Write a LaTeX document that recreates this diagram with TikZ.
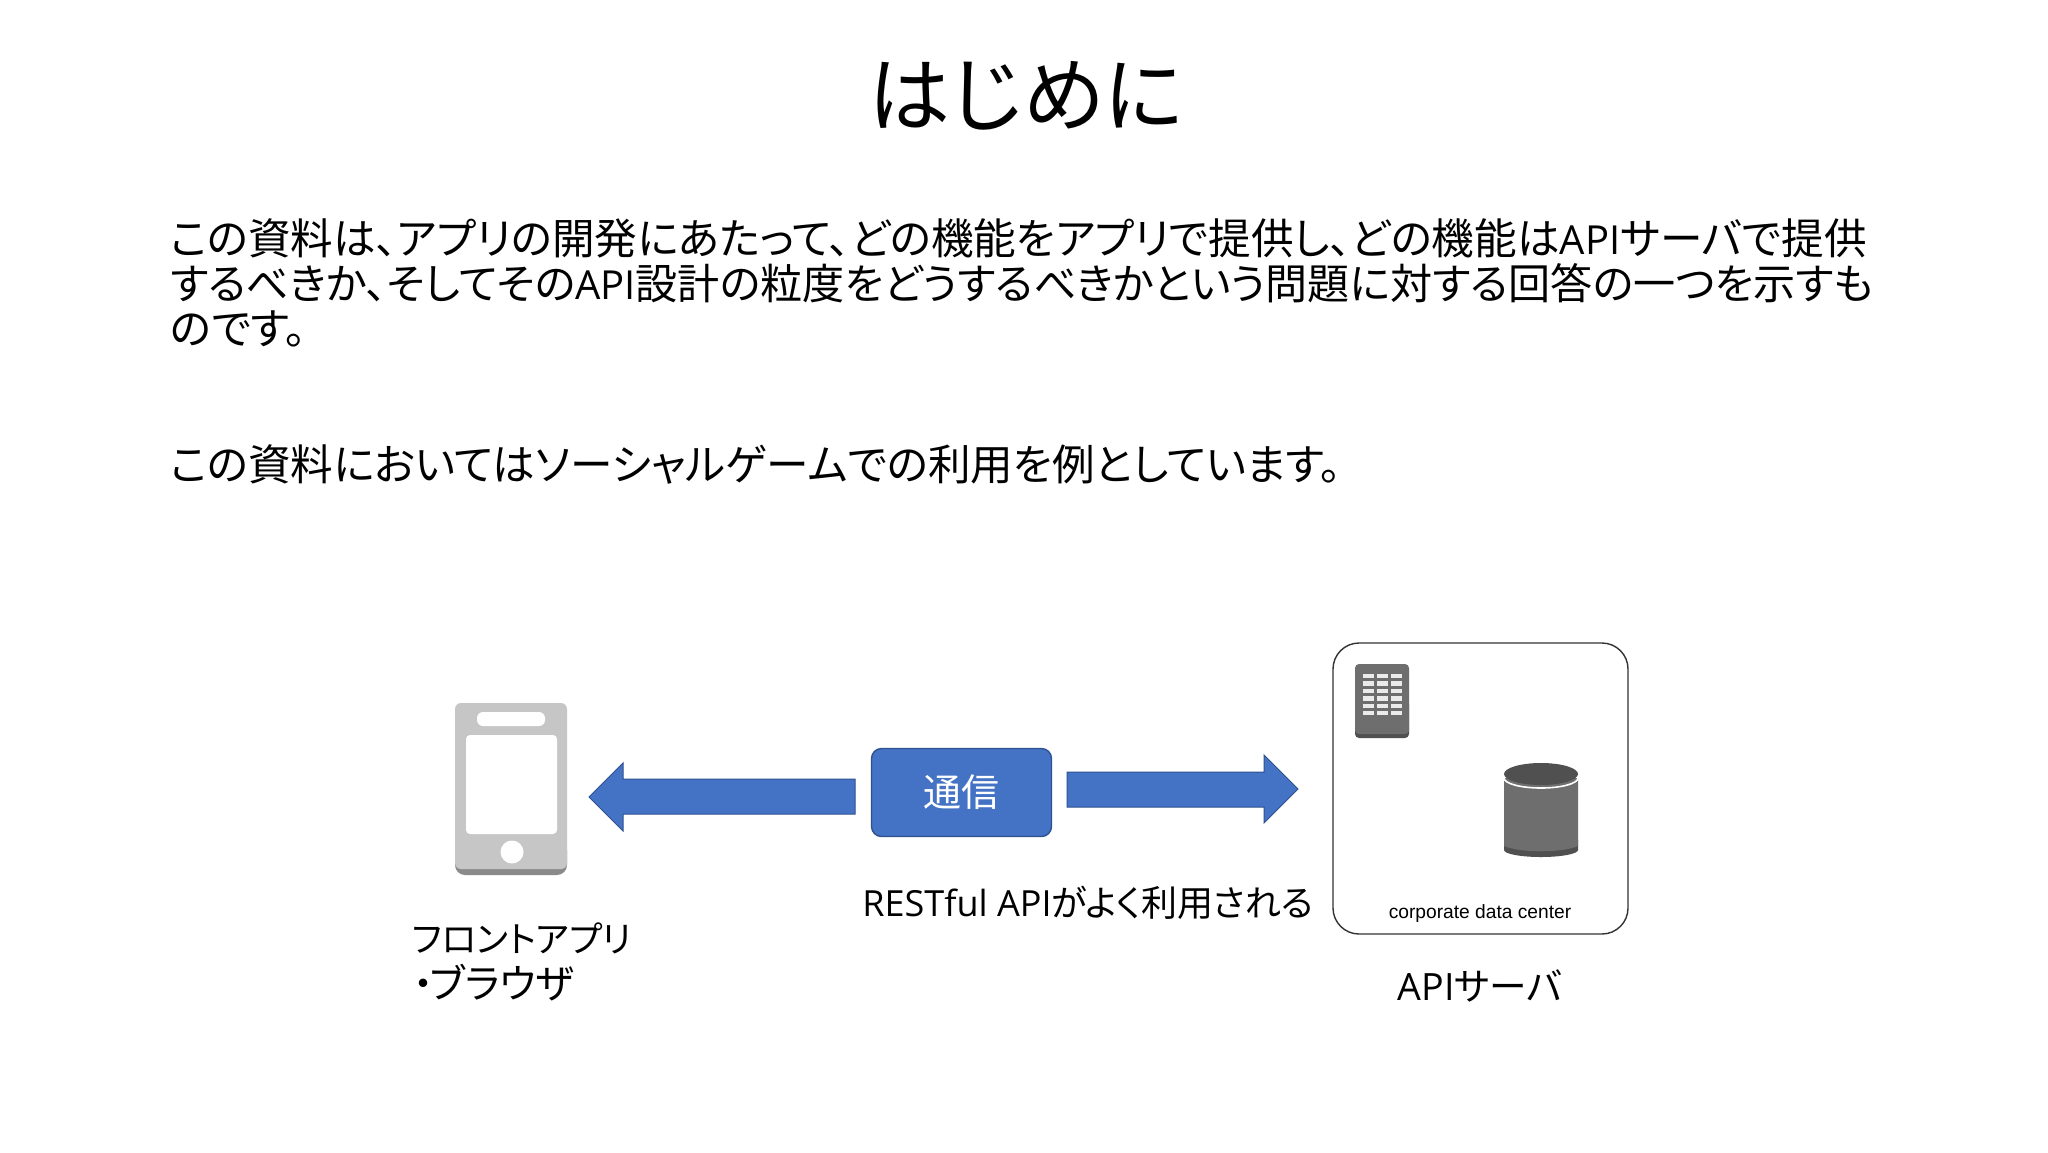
\documentclass[tikz,border=0pt]{standalone}
\usepackage{fontspec}
\setmainfont[RawFeature={+palt}]{Noto Sans CJK JP}
\newfontfamily\latn{Open Sans}
\newfontfamily\arial{Liberation Sans}
\definecolor{blockblue}{HTML}{4472C4}
\definecolor{blockedge}{HTML}{2F528F}
\definecolor{phonegray}{HTML}{C6C6C6}
\definecolor{phonedark}{HTML}{8A8A8A}
\definecolor{srvgray}{HTML}{6E6E6E}
\definecolor{srvdark}{HTML}{505050}
\newcommand{\fs}[1]{\fontsize{#1}{#1}\selectfont}
\tikzset{
  x=0.5pt,y=-0.5pt,
  bodyline/.style={anchor=west,inner sep=0pt,text=black,font=\fs{21.3}},
  label/.style={anchor=center,inner sep=0pt,text=black,font=\fs{18}},
  blockarrow/.style={fill=blockblue,draw=blockedge,line width=0.5pt,line join=miter},
}
\begin{document}
\begin{tikzpicture}
\useasboundingbox (0,0) rectangle (2048,1152);
\fill[white] (0,0) rectangle (2048,1152);
\node[anchor=center,inner sep=0pt,font=\fs{41}] (title) at (1026,96) {はじめに};
\node[bodyline] (l1) at (170,238) {この資料は、アプリの開発にあたって、どの機能をアプリで提供し、どの機能は{\latn\fs{20}API}サーバで提供};
\node[bodyline,font=\fs{21.05}] (l2) at (170,283) {するべきか、そしてその{\latn\fs{20}API}設計の粒度をどうするべきかという問題に対する回答の一つを示すも};
\node[bodyline] (l3) at (170,329) {のです。};
\node[bodyline] (l4) at (170,465) {この資料においてはソーシャルゲームでの利用を例としています。};
% phone
\fill[phonedark,rounded corners=5pt] (455,840) rectangle (567,875);
\fill[phonegray,rounded corners=3pt] (455,703) rectangle (567,869);
\fill[white,rounded corners=3pt] (477,712) rectangle (545,726);
\fill[white,rounded corners=2pt] (466,735) rectangle (557,834);
\fill[white] (512,852) circle (11.5);
% arrows
\draw[blockarrow] (855,779) -- (623,779) -- (623,763) -- (589,797) -- (623,831) -- (623,814) -- (855,814) -- cycle;
\draw[blockarrow] (1067,772) -- (1264,772) -- (1264,755) -- (1298,789) -- (1264,823) -- (1264,807) -- (1067,807) -- cycle;
\node[draw=blockedge,fill=blockblue,line width=0.7pt,rounded corners=5pt,minimum width=90pt,minimum height=44pt,inner sep=0pt,text=white,font=\fs{19}] (comm) at (961.5,792.5) {通信};
% server box
\draw[draw=black!80,line width=0.7pt,rounded corners=13pt] (1333,643) rectangle (1628,934);
\node[inner sep=0pt,font={\arial\fs{9.6}}] (dc) at (1480,914) {corporate data center};
% building
\fill[srvdark,rounded corners=2pt] (1355,700) rectangle (1409,738);
\fill[srvgray,rounded corners=2pt] (1355,664) rectangle (1409,734);
\foreach \yy in {673.5,681,688.5,696,703.5,710.5}
  \foreach \xx in {1362.5,1376.5,1391}
    \fill[white!92!black] (\xx,\yy) rectangle ++(11,4.5);
% cylinder
\fill[srvdark] (1504,840) -- (1504,850) arc[start angle=180,end angle=0,x radius=37,y radius=7] -- (1578,840) -- cycle;
\fill[srvgray] (1504,778) -- (1504,846) .. controls (1520,853) and (1562,853) .. (1578,846) -- (1578,778) -- cycle;
\draw[white,line width=0.8pt] (1504,778) arc[start angle=180,end angle=0,x radius=37,y radius=10];
\fill[srvdark] (1541,774) ellipse[x radius=37,y radius=11];
% labels
\node[label,font=\fs{17.9}] (front1) at (522,938) {フロントアプリ};
\node[label,font=\fs{20}] (front2) at (494,983) {・\kern-0.1em ブラウザ};
\node[label] (rest) at (1088,903) {{\latn RESTful API}がよく利用される};
\node[label,font=\fs{18.8}] (api) at (1480,986) {{\latn API}サーバ};
\end{tikzpicture}
\end{document}
